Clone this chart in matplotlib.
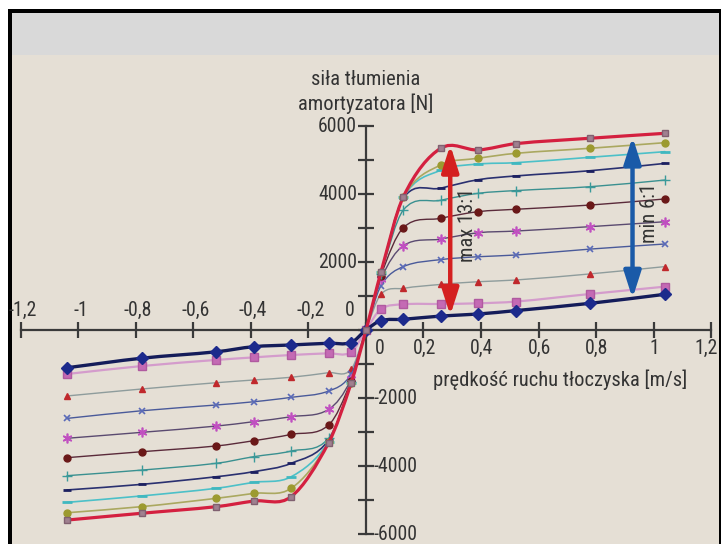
import numpy as np
import matplotlib
matplotlib.use("Agg")
import matplotlib.pyplot as plt
from matplotlib import font_manager as fm
from matplotlib.path import Path
from matplotlib.patches import PathPatch, Rectangle, FancyArrowPatch

# piston velocity [m/s]
velocity = [-1.04, -0.78, -0.52, -0.39, -0.26, -0.13, -0.052, 0.0,
            0.052, 0.13, 0.26, 0.39, 0.52, 0.78, 1.04]

# damping force [N] for each valve setting, softest to hardest
force_soft = [-1110, -830, -640, -490, -440, -390, -370, 0,
              275, 315, 410, 470, 570, 785, 1050]
force_2 = [-1295, -1060, -880, -805, -735, -685, -655, 0,
           615, 755, 765, 785, 835, 1060, 1275]
force_3 = [-1940, -1735, -1550, -1470, -1390, -1255, -1160, 0,
           1050, 1225, 1340, 1420, 1470, 1650, 1865]
force_4 = [-2600, -2375, -2205, -2110, -1980, -1795, -1300, 0,
           1300, 1865, 2070, 2155, 2205, 2380, 2530]
force_5 = [-3185, -3010, -2825, -2695, -2550, -2335, -1450, 0,
           1500, 2480, 2675, 2860, 2910, 3040, 3185]
force_6 = [-3755, -3580, -3410, -3255, -3070, -2795, -1500, 0,
           1600, 3010, 3285, 3480, 3550, 3675, 3855]
force_7 = [-4285, -4120, -3920, -3725, -3560, -3185, -1520, 0,
           1650, 3530, 3815, 4020, 4100, 4215, 4410]
force_8 = [-4705, -4540, -4315, -4165, -3920, -3240, -1540, 0,
           1680, 3880, 4170, 4420, 4530, 4685, 4900]
force_9 = [-5070, -4880, -4655, -4480, -4315, -3280, -1550, 0,
           1700, 3900, 4700, 4880, 4920, 5080, 5245]
force_10 = [-5375, -5195, -4950, -4805, -4655, -3300, -1560, 0,
            1700, 3910, 4855, 5050, 5195, 5345, 5510]
force_hard = [-5590, -5390, -5195, -5030, -4900, -3315, -1570, 0,
              1700, 3920, 5345, 5295, 5480, 5640, 5785]

x_ticks = [-1.2, -1.0, -0.8, -0.6, -0.4, -0.2, 0.0, 0.2, 0.4, 0.6, 0.8, 1.0, 1.2]
x_tick_labels = ['-1,2', '-1', '-0,8', '-0,6', '-0,4', '-0,2', '0',
                 '0,2', '0,4', '0,6', '0,8', '1', '1,2']
y_ticks = [-6000, -4000, -2000, 0, 2000, 4000, 6000]
y_tick_labels = ['-6000', '-4000', '-2000', '0', '2000', '4000', '6000']

ratio_max = 'max 13:1'
ratio_min = 'min 6:1'
arrow_max = (0.293, 430, 5440)
arrow_min = (0.927, 930, 5680)

y_title = 'siła tłumienia\namortyzatora [N]'
x_title = 'prędkość ruchu tłoczyska [m/s]'

TXT = '#333333'


def condensed_font():
    """Pick a narrow sans-serif face, with a size factor for its width."""
    choices = [('Liberation Sans Narrow', 1.0), ('Roboto Condensed', 0.95),
               ('Open Sans Condensed', 0.92), ('Noto Sans Condensed', 0.9),
               ('DejaVu Sans Condensed', 0.85)]
    entries = [e for e in fm.fontManager.ttflist
               if e.style == 'normal' and str(e.weight) in ('400', 'normal', 'regular', 'book')]
    for name, factor in choices:
        for e in entries:
            label = e.name
            if e.stretch in ('condensed', 'semi-condensed') and 'Condensed' not in label:
                label = label + ' Condensed'
            if label == name:
                return fm.FontProperties(fname=e.fname), factor
    return fm.FontProperties(family='Liberation Sans'), 0.82


FONT, SCALE = condensed_font()


def txt(size):
    fp = FONT.copy()
    fp.set_size(size * SCALE)
    return fp


def smooth_path(xs, ys):
    """Cubic Bezier path through the points, tangents taken along the x direction."""
    x = np.asarray(xs, float)
    y = np.asarray(ys, float)
    n = len(x)
    slope = np.empty(n)
    slope[0] = (y[1] - y[0]) / (x[1] - x[0])
    slope[-1] = (y[-1] - y[-2]) / (x[-1] - x[-2])
    slope[1:-1] = (y[2:] - y[:-2]) / (x[2:] - x[:-2])
    verts = [(x[0], y[0])]
    codes = [Path.MOVETO]
    for i in range(n - 1):
        h = (x[i + 1] - x[i]) / 3.0
        verts += [(x[i] + h, y[i] + slope[i] * h),
                  (x[i + 1] - h, y[i + 1] - slope[i + 1] * h),
                  (x[i + 1], y[i + 1])]
        codes += [Path.CURVE4] * 3
    return Path(verts, codes)


fig = plt.figure(figsize=(7.22, 5.44), dpi=100)
ax = fig.add_axes([0, 0, 1, 1])
ax.set_facecolor('none')

W, H = 722.0, 544.0
# page background, grey header band and frame
ax.add_patch(Rectangle((8 / W, 0), (721 - 8) / W, (H - 9) / H, transform=ax.transAxes,
                       facecolor='#e5dfd5', edgecolor='none', zorder=0, clip_on=False))
ax.add_patch(Rectangle((8 / W, (H - 55) / H), (721 - 8) / W, 44 / H, transform=ax.transAxes,
                       facecolor='#d9d9d9', edgecolor='none', zorder=0, clip_on=False))
ax.add_patch(Rectangle((8 / W, 0), 4 / W, (H - 9) / H, transform=ax.transAxes,
                       facecolor='black', edgecolor='none', zorder=0.5, clip_on=False))
ax.add_patch(Rectangle((8 / W, (H - 13) / H), (721 - 8) / W, 4 / H, transform=ax.transAxes,
                       facecolor='black', edgecolor='none', zorder=0.5, clip_on=False))
ax.add_patch(Rectangle((719 / W, 0), 2 / W, (H - 9) / H, transform=ax.transAxes,
                       facecolor='black', edgecolor='none', zorder=0.5, clip_on=False))

# data ranges so that the axes cross at the page position of the origin
x0_px, px_per_unit = 366.0, 287.5
y0_px, px_per_newton = 330.0, 0.034
ax.set_xlim(-x0_px / px_per_unit, (W - x0_px) / px_per_unit)
ax.set_ylim(-(H - y0_px) / px_per_newton, y0_px / px_per_newton)

series = [
    (force_3, dict(marker='^', ms=4.5, mfc='#c0282c', mec='#c0282c'), '#8e9c9c', 1.0),
    (force_4, dict(marker='x', ms=5, mec='#5a6ab8', mew=1.2), '#4a5a9a', 1.0),
    (force_5, dict(marker=(6, 2, 0), ms=7, mec='#c050c0', mew=1.2), '#5a4a70', 1.0),
    (force_6, dict(marker='o', ms=5, mfc='#6a1818', mec='#6a1818'), '#5a2a3a', 1.0),
    (force_7, dict(marker='+', ms=7, mec='#3a9a9a', mew=1.0), '#3a9090', 1.0),
    (force_8, dict(marker='_', ms=6, mec='#1c2060', mew=2.0), '#2a3070', 1.2),
    (force_9, dict(marker='_', ms=7, mec='#40b8c0', mew=2.0), '#4cc0c8', 1.2),
    (force_10, dict(marker='o', ms=5, mfc='#9c9a30', mec='#9c9a30'), '#aaa860', 1.2),
    (force_2, dict(marker='s', ms=5.5, mfc='#c46ab4', mec='#b05aa0'), '#d49ccc', 1.6),
    (force_soft, dict(marker='D', ms=6, mfc='#1c2a8c', mec='#1c2a8c'), '#141c5a', 2.4),
    (force_hard, dict(marker='s', ms=5, mfc='#a08090', mec='#806070'), '#d42040', 2.3),
]

for k, (fy, mk, lc, lw) in enumerate(series):
    z = 3 + k * 0.1
    ax.add_patch(PathPatch(smooth_path(velocity, fy), facecolor='none', edgecolor=lc,
                           lw=lw, zorder=z, capstyle='round', joinstyle='round'))
    ax.plot(velocity, fy, linestyle='none', zorder=z + 0.05, **mk)

# axes crossing at the origin
for side in ('top', 'right'):
    ax.spines[side].set_visible(False)
ax.spines['left'].set_position(('data', 0))
ax.spines['bottom'].set_position(('data', 0))
ax.spines['left'].set_bounds(-6000, 6000)
ax.spines['bottom'].set_bounds(-1.2, 1.2)
for side in ('left', 'bottom'):
    ax.spines[side].set_color('#3a3a3a')
    ax.spines[side].set_linewidth(1.6)
    ax.spines[side].set_zorder(2)
ax.set_xticks(x_ticks)
ax.set_yticks(np.arange(-6000, 6001, 1000))
ax.tick_params(direction='inout', length=11, width=1.6, color='#3a3a3a',
               labelbottom=False, labelleft=False)

fs_tick = 15
fs_title = 15.5
for v, lab in zip(x_ticks, x_tick_labels):
    if v < 0:
        ax.annotate(lab, (v, 0), xytext=(2, 10), textcoords='offset pixels',
                    ha='center', va='bottom', fontproperties=txt(fs_tick), color=TXT)
    elif v == 0:
        ax.annotate(lab, (v, 0), xytext=(9, -9), textcoords='offset pixels',
                    ha='left', va='top', fontproperties=txt(fs_tick), color=TXT)
    else:
        dx = -5 if v == x_ticks[-1] else 1
        ax.annotate(lab, (v, 0), xytext=(dx, -9), textcoords='offset pixels',
                    ha='center', va='top', fontproperties=txt(fs_tick), color=TXT)

for f, lab in zip(y_ticks, y_tick_labels):
    if f > 0:
        ax.annotate(lab, (0, f), xytext=(-9, 0), textcoords='offset pixels',
                    ha='right', va='center', fontproperties=txt(fs_tick), color=TXT)
    elif f == 0:
        ax.annotate(lab, (0, f), xytext=(-11, 19), textcoords='offset pixels',
                    ha='right', va='center', fontproperties=txt(fs_tick), color=TXT)
    else:
        ax.annotate(lab, (0, f), xytext=(8, 0), textcoords='offset pixels',
                    ha='left', va='center', fontproperties=txt(fs_tick), color=TXT)

ax.annotate(y_title, (0, 6000), xytext=(0, 12), textcoords='offset pixels',
            ha='center', va='bottom', fontproperties=txt(fs_title), color=TXT,
            linespacing=1.3)
ax.annotate(x_title, (0.675, 0), xytext=(0, -40), textcoords='offset pixels',
            ha='center', va='top', fontproperties=txt(fs_title), color=TXT)

# ratio arrows
for (v, lo, hi), col, lab in ((arrow_max, '#d42020', ratio_max),
                              (arrow_min, '#1a5aa8', ratio_min)):
    ax.add_patch(FancyArrowPatch((v, lo), (v, hi),
                                 arrowstyle='<|-|>,head_length=1.0,head_width=0.32',
                                 mutation_scale=16, color=col, lw=3.2, shrinkA=0, shrinkB=0,
                                 zorder=6))
    ax.annotate(lab, (v, (lo + hi) / 2 + 150), xytext=(17, 0), textcoords='offset pixels',
                rotation=90, ha='center', va='center', fontproperties=txt(fs_title),
                color=TXT, zorder=7)

fig.savefig('out.png', dpi=100, facecolor='white')
